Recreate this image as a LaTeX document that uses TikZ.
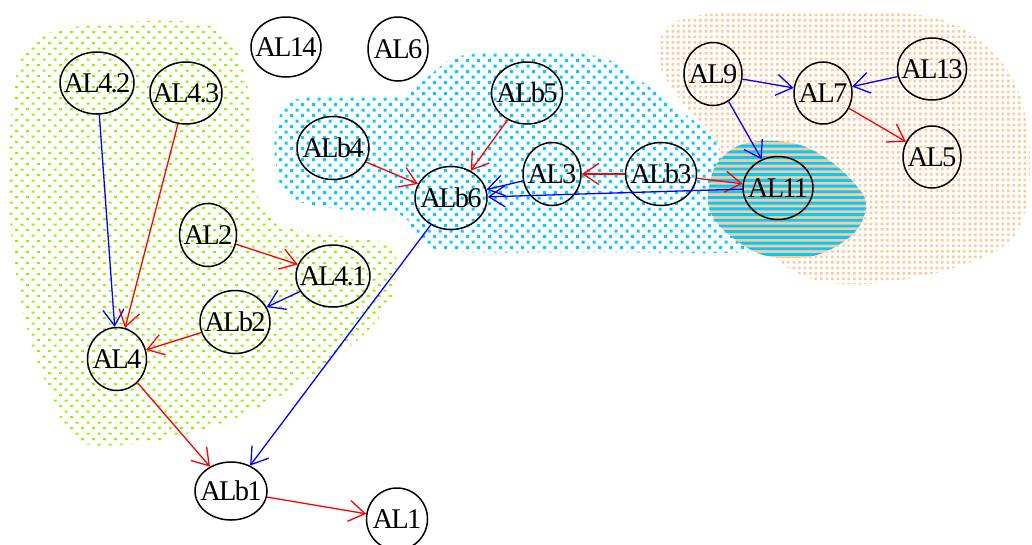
\documentclass[tikz,border=0pt]{standalone}
\usepackage{fontspec}
\newfontfamily\nodefont[LetterSpace=-6.0]{Liberation Serif}
\usetikzlibrary{shapes.geometric,arrows.meta}

\definecolor{dotgreen}{RGB}{155,240,0}
\definecolor{dotcyan}{RGB}{0,204,255}
\definecolor{dotpeach}{RGB}{255,200,150}

\newcommand\nlabel[1]{\makebox[0pt]{#1}}

% cluster outlines
\def\greenpath{plot[smooth cycle, tension=0.6] coordinates {
    (35,40) (130,22) (215,28) (245,75) (252,150) (262,207) (300,230)
    (383,243) (396,270) (385,310) (340,355) (268,403) (200,430) (133,444)
    (77,440) (48,388) (25,320) (10,220) (12,110)}}
\def\cyanpath{plot[smooth cycle, tension=0.6] coordinates {
    (276,130) (290,102) (330,97) (400,96) (430,75) (460,56) (530,52)
    (600,57) (645,84) (690,118) (740,150) (780,190) (780,230) (760,251)
    (600,252) (450,251) (418,236) (398,214) (330,208) (288,196) (276,165)}}
\def\peachpath{plot[smooth cycle, tension=0.6] coordinates {
    (658,48) (672,24) (720,13) (850,11) (940,19) (988,48) (1020,95)
    (1030,170) (1015,235) (960,266) (880,283) (820,281) (780,262)
    (750,230) (735,190) (716,142) (688,110) (662,72)}}
\def\overlappath{plot[smooth cycle, tension=0.6] coordinates {
    (708,197) (715,167) (736,147) (765,141) (800,145) (830,161) (855,184)
    (866,205) (855,232) (825,252) (795,258) (760,254) (728,234) (712,215)}}

\tikzset{
  st/.style 2 args={ellipse, draw=black, line width=1.5pt, inner sep=0pt,
    minimum width=#1pt, minimum height=#2pt,
    font=\nodefont\fontsize{28.5}{30}\selectfont},
  ed/.style={line width=1.3pt, -{Straight Barb[length=16pt,width=21pt]}},
  rd/.style={ed, draw=red},
  bl/.style={ed, draw=blue},
}

\begin{document}
\begin{tikzpicture}[x=1pt,y=-1pt]
\useasboundingbox (0,0) rectangle (1032,544);

% cluster: green dots on a staggered lattice, one row per path
\begin{scope}
  \clip \greenpath;
  \foreach \j in {0,...,78} {
    \pgfmathsetmacro\off{mod(\j,2)*5.5}
    \fill[dotgreen] \foreach \i in {0,...,36}
      { ({4+\off+11*\i},{20+5.5*\j}) rectangle ++(3,2) }; }
\end{scope}

% cluster: cyan dots
\begin{scope}
  \clip \cyanpath;
  \foreach \j in {0,...,38} {
    \pgfmathsetmacro\off{mod(\j,2)*5.5}
    \fill[dotcyan] \foreach \i in {0,...,48}
      { ({268+\off+11*\i},{48+5.5*\j}) rectangle ++(3,3) }; }
\end{scope}

% cluster: peach dots, laid over the cyan one
\fill[white] \peachpath;
\begin{scope}
  \clip \peachpath;
  \foreach \j in {0,...,51} { \fill[dotpeach] \foreach \i in {0,...,69}
    { ({655+5.5*\i},{8+5.5*\j}) rectangle ++(2.6,2.6) }; }
\end{scope}

% overlap of cyan and peach: horizontal stripes
\fill[dotpeach] \overlappath;
\begin{scope}
  \clip \overlappath;
  \fill[dotcyan] \foreach \j in {0,...,22}
    { (700,{139+5.7*\j}) rectangle ++(172,2.9) };
\end{scope}

% nodes
\node[st={70}{60}] (AL14) at (286,47) {\nlabel{AL14}};
\node[st={60}{64}] (AL6) at (398,49) {\nlabel{AL6}};
\node[st={74}{62}] (AL42) at (97,83) {\nlabel{AL4.2}};
\node[st={72}{62}] (AL43) at (186,93) {\nlabel{AL4.3}};
\node[st={57}{63}] (AL2) at (208,235) {\nlabel{AL2}};
\node[st={74}{62}] (AL41) at (333,276) {\nlabel{AL4.1}};
\node[st={70}{63}] (ALb2) at (235,322) {\nlabel{ALb2}};
\node[st={59}{63}] (AL4) at (117,359) {\nlabel{AL4}};
\node[st={72}{58}] (ALb1) at (231,491) {\nlabel{ALb1}};
\node[st={61}{62}] (AL1) at (397,519) {\nlabel{AL1}};
\node[st={72}{63}] (ALb4) at (333,148) {\nlabel{ALb4}};
\node[st={71}{62}] (ALb5) at (527,93) {\nlabel{ALb5}};
\node[st={72}{63}] (ALb6) at (451,198) {\nlabel{ALb6}};
\node[st={58}{63}] (AL3) at (552,174) {\nlabel{AL3}};
\node[st={71}{63}] (ALb3) at (661,174) {\nlabel{ALb3}};
\node[st={70}{63}] (AL11) at (778,188) {\nlabel{AL11}};
\node[st={58}{63}] (AL9) at (713,74) {\nlabel{AL9}};
\node[st={58}{62}] (AL7) at (823,93) {\nlabel{AL7}};
\node[st={69}{62}] (AL13) at (932,69) {\nlabel{AL13}};
\node[st={58}{62}] (AL5) at (932,157) {\nlabel{AL5}};

% edges
\draw[bl] (AL42) -- (AL4);
\draw[rd] (AL43) -- (AL4);
\draw[rd] (AL2) -- (AL41);
\draw[bl] (AL41) -- (ALb2);
\draw[rd] (ALb2) -- (AL4);
\draw[rd] (AL4) -- (ALb1);
\draw[bl] (ALb6) -- (ALb1);
\draw[rd] (ALb1) -- (AL1);
\draw[rd] (ALb4) -- (ALb6);
\draw[rd] (ALb5) -- (ALb6);
\draw[bl] (AL3) -- (ALb6);
\draw[rd] (ALb3) -- (AL3);
\draw[rd] (ALb3) -- (AL11);
\draw[bl] (AL11) -- (ALb6);
\draw[bl] (AL9) -- (AL7);
\draw[bl] (AL9) -- (AL11);
\draw[bl] (AL13) -- (AL7);
\draw[rd] (AL7) -- (AL5);
\end{tikzpicture}
\end{document}
